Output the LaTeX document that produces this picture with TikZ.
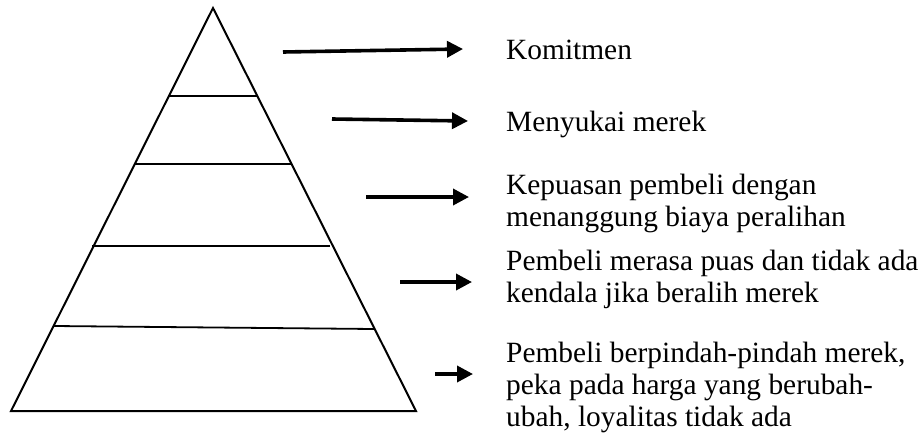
\documentclass[tikz,border=0pt]{standalone}
\usepackage{fontspec}
\setmainfont{Liberation Serif}
\usetikzlibrary{arrows.meta}
\begin{document}
\begin{tikzpicture}[x=1pt,y=-1pt,
  edge/.style={line width=2pt, line join=miter},
  tier/.style={line width=1.8pt},
  pointer/.style={line width=3.6pt, -{Triangle[length=16pt,width=16pt]}},
  desc/.style={anchor=base west, inner sep=0pt, align=left, font=\fontsize{29.4}{32}\selectfont}]
\useasboundingbox (0,0) rectangle (922,439);
% pyramid
\coordinate (apex) at (213,8);
\coordinate (bl) at (11,411);
\coordinate (br) at (416,411);
\draw[edge] (apex) -- (br) -- (bl) -- cycle;
% tiers
\coordinate (t1l) at (169,96);  \coordinate (t1r) at (257,96);
\coordinate (t2l) at (135,164); \coordinate (t2r) at (292,164);
\coordinate (t3l) at (92,246);  \coordinate (t3r) at (330,246);
\coordinate (t4l) at (54,326);  \coordinate (t4r) at (374,329);
\draw[tier] (t1l) -- (t1r);
\draw[tier] (t2l) -- (t2r);
\draw[tier] (t3l) -- (t3r);
\draw[tier] (t4l) -- (t4r);
% labels (multi-line nodes are anchored at the baseline of their last line)
\node[desc] (l1) at (506,59) {Komitmen};
\node[desc] (l2) at (506,131) {Menyukai merek};
\node[desc] (l3) at (506,226) {Kepuasan pembeli dengan\\menanggung biaya peralihan};
\node[desc] (l4) at (506,302) {Pembeli merasa puas dan tidak ada\\kendala jika beralih merek};
\node[desc] (l5) at (506,426) {Pembeli berpindah-pindah merek,\\peka pada harga yang berubah-\\ubah, loyalitas tidak ada};
% arrows
\coordinate (a1s) at (283,52);  \coordinate (a1e) at (463,49);
\coordinate (a2s) at (332,119); \coordinate (a2e) at (468,121);
\coordinate (a3s) at (366,197); \coordinate (a3e) at (469,197);
\coordinate (a4s) at (400,282); \coordinate (a4e) at (472,282);
\coordinate (a5s) at (435,374); \coordinate (a5e) at (473,374);
\draw[pointer] (a1s) -- (a1e);
\draw[pointer] (a2s) -- (a2e);
\draw[pointer] (a3s) -- (a3e);
\draw[pointer] (a4s) -- (a4e);
\draw[pointer] (a5s) -- (a5e);
\end{tikzpicture}
\end{document}
